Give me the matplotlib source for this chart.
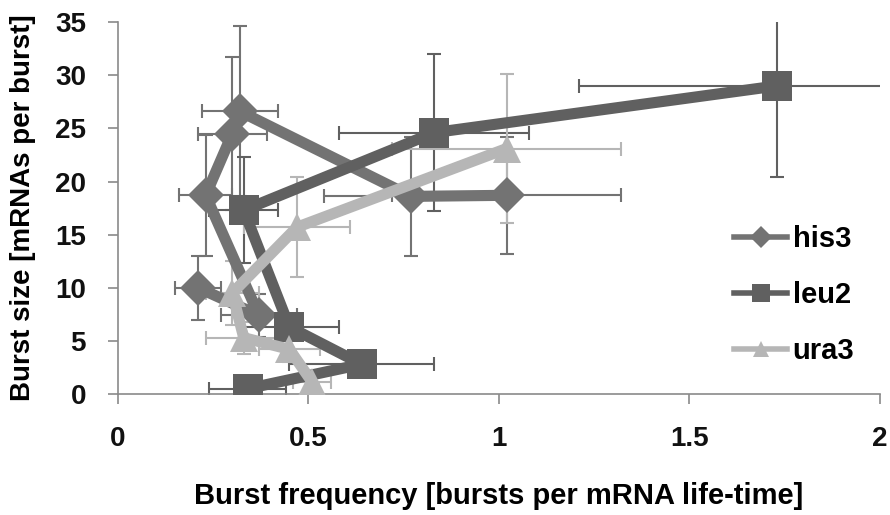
import numpy as np
import matplotlib.pyplot as plt

plt.rcParams['font.family'] = ['Liberation Sans', 'DejaVu Sans']
plt.rcParams['font.weight'] = 'bold'

# his3 (diamonds)
his3_x = [0.21, 0.37, 0.23, 0.30, 0.32, 0.77, 1.02]
his3_y = [10.0, 7.4, 18.7, 24.5, 26.6, 18.6, 18.7]
his3_xerr = [0.06, 0.10, 0.07, 0.09, 0.10, 0.23, 0.30]
his3_yerr = [3.0, 2.0, 5.7, 7.2, 8.0, 5.6, 5.5]

# leu2 (squares)
leu2_x = [0.34, 0.64, 0.45, 0.33, 0.83, 1.73]
leu2_y = [0.5, 2.8, 6.3, 17.3, 24.6, 29.0]
leu2_xerr = [0.10, 0.19, 0.13, 0.09, 0.25, 0.52]
leu2_yerr = [0.6, 1.0, 1.2, 5.0, 7.4, 8.6]

# ura3 (triangles)
ura3_x = [1.02, 0.47, 0.30, 0.33, 0.45, 0.51]
ura3_y = [23.1, 15.7, 9.5, 5.3, 4.2, 1.1]
ura3_xerr = [0.30, 0.14, 0.07, 0.10, 0.08, 0.05]
ura3_yerr = [7.0, 4.7, 3.0, 1.5, 1.2, 0.8]

series = [
    ('his3', his3_x, his3_y, his3_xerr, his3_yerr, '#737373', 'D', 18),
    ('leu2', leu2_x, leu2_y, leu2_xerr, leu2_yerr, '#606060', 's', 21),
    ('ura3', ura3_x, ura3_y, ura3_xerr, ura3_yerr, '#b6b6b6', '^', 20),
]

fig = plt.figure(figsize=(8.9, 5.15), dpi=100)
ax = fig.add_axes([0.1326, 0.235, 0.856, 0.722])

for name, x, y, xe, ye, col, mk, ms in series:
    ax.errorbar(x, y, xerr=xe, yerr=ye, fmt='none', ecolor=col,
                elinewidth=1.5, capsize=5, capthick=1.5, zorder=2)
for name, x, y, xe, ye, col, mk, ms in series:
    ax.plot(x, y, color=col, lw=8, marker=mk, markersize=ms,
            markeredgewidth=0, label=name, zorder=3)

ax.set_xlim(0, 2)
ax.set_ylim(0, 35)
ax.set_xticks([0, 0.5, 1, 1.5, 2])
ax.set_xticklabels(['0', '0.5', '1', '1.5', '2'])
ax.set_yticks(range(0, 36, 5))

for s in ['top', 'right']:
    ax.spines[s].set_visible(False)
for s in ['left', 'bottom']:
    ax.spines[s].set_color('#8a8a8a')
    ax.spines[s].set_linewidth(1.2)

ax.tick_params(axis='both', colors='#8a8a8a', length=7, width=1.2,
               labelsize=20, labelcolor='#111111')
ax.tick_params(axis='x', pad=16)
ax.tick_params(axis='y', pad=16)

ax.set_xlabel('Burst frequency [bursts per mRNA life-time]',
              fontsize=21, fontweight='bold', labelpad=22)
ax.set_ylabel('Burst size [mRNAs per burst]',
              fontsize=20, fontweight='bold', labelpad=14)

leg = fig.legend(loc='upper left', bbox_to_anchor=(0.812, 0.585), frameon=False,
                 fontsize=21, handlelength=1.8, handletextpad=0.2,
                 labelspacing=0.95, markerscale=0.6, borderaxespad=0)
for h in leg.legend_handles:
    h.set_linewidth(4)

fig.savefig('out.png', dpi=100)
